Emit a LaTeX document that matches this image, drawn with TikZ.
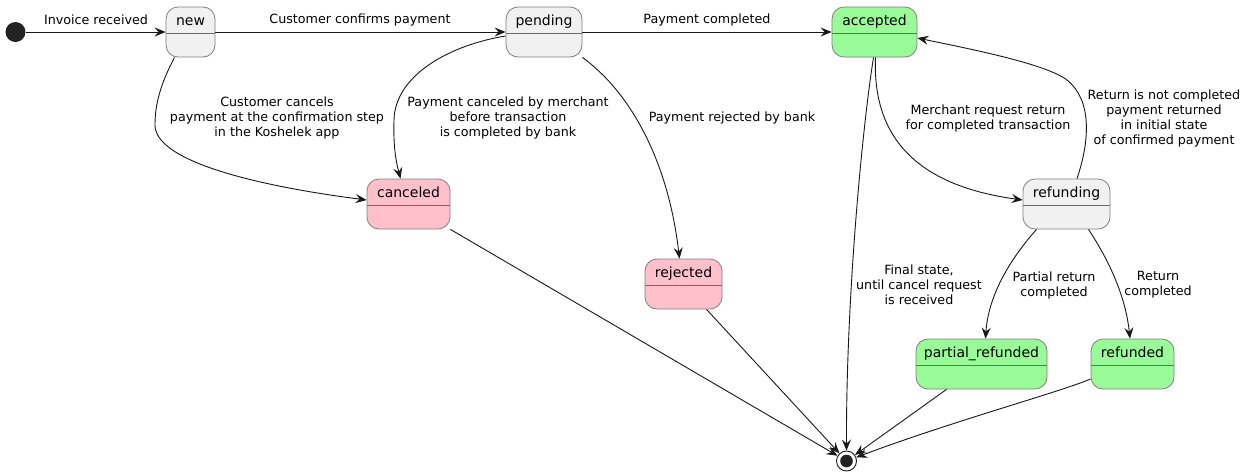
\documentclass[tikz,border=0pt]{standalone}
\usepackage{fontspec}
\setmainfont{DejaVu Sans}
\usetikzlibrary{arrows.meta,calc}
\definecolor{stgray}{HTML}{F1F1F1}
\definecolor{stgreen}{HTML}{98FB98}
\definecolor{stpink}{HTML}{FFC0CB}
\definecolor{stborder}{HTML}{808080}
\definecolor{stdivider}{HTML}{6A6A6A}
\definecolor{edgecol}{HTML}{181818}
\definecolor{dotcol}{HTML}{222222}
\tikzset{
  statebox/.style={draw=stborder, line width=0.8pt, rounded corners=12pt,
    minimum height=50pt, inner xsep=0pt, inner ysep=0pt,
    text height=18pt, text depth=32pt,
    font=\fontsize{14}{16}\selectfont,
    path picture={\draw[stdivider, line width=0.8pt]
      ([yshift=-26pt]path picture bounding box.north west) --
      ([yshift=-26pt]path picture bounding box.north east);}},
  grayst/.style={statebox, fill=stgray},
  greenst/.style={statebox, fill=stgreen},
  pinkst/.style={statebox, fill=stpink},
  lbl/.style={font=\fontsize{12.7}{15}\selectfont, align=center, inner sep=0pt, text=black},
  edge/.style={draw=edgecol, line width=0.9pt,
    -{Stealth[length=11pt, width=9pt, inset=4pt]}}
}
\begin{document}
\begin{tikzpicture}[x=1pt, y=-1pt]
\useasboundingbox (0,0) rectangle (1248,475);

% states
\node[circle, fill=dotcol, minimum size=20pt, inner sep=0pt] (init) at (15.5,32) {};
\node[grayst, minimum width=49pt] (new) at (190.5,32) {new};
\node[grayst, minimum width=76pt] (pending) at (544,32) {pending};
\node[greenst, minimum width=85pt] (accepted) at (874.5,32) {accepted};
\node[pinkst, minimum width=83pt] (canceled) at (408.5,204) {canceled};
\node[pinkst, minimum width=77pt] (rejected) at (683.5,284) {rejected};
\node[grayst, minimum width=87pt] (refunding) at (1066.5,204) {refunding};
\node[greenst, minimum width=131pt] (partial) at (981.5,364) {partial\_refunded};
\node[greenst, minimum width=83pt] (refunded) at (1132.5,364) {refunded};
\node[circle, draw=edgecol, fill=white, line width=0.9pt, minimum size=20pt, inner sep=0pt] (final) at (846.5,461) {};
\fill[dotcol] (final.center) circle (6.3pt);

% edges
\draw[edge] (init) -- (new);
\draw[edge] (new) -- (pending);
\draw[edge] (pending) -- (accepted);
\draw[edge] ($(new.south)+(-16,0)$) .. controls (160,85) and (155,105) .. (155,125)
   .. controls (155,160) and (250,185) .. ($(canceled.west)+(0,-4)$);
\draw[edge] ($(pending.west)+(0,4)$) .. controls (450,45) and (395,75) .. (394,120)
   .. controls (393,150) and (397,165) .. ($(canceled.north)+(-8,0)$);
\draw[edge] (pending.south east) .. controls (630,92) and (668,160) .. ($(rejected.north)+(-4,0)$);
\draw[edge] ($(accepted.south)+(-1,0)$) .. controls (862,130) and (846,300) .. (final.north);
\draw[edge] ($(accepted.south)+(1,0)$) .. controls (872,140) and (920,186) .. ($(refunding.west)+(0,-4)$);
\draw[edge] ($(refunding.north)+(10.5,0)$) .. controls (1090,140) and (1092,100) .. (1067,80)
   .. controls (1045,63) and (960,47) .. ($(accepted.east)+(0,6)$);
\draw[edge] ($(refunding.south)+(-30,0)$) .. controls (1005,265) and (988,300) .. ($(partial.north)+(4,0)$);
\draw[edge] ($(refunding.south)+(22,0)$) .. controls (1112,265) and (1126,300) .. ($(refunded.north)+(-2.5,0)$);
\draw[edge] (canceled.south east) -- (final);
\draw[edge] ($(rejected.south)+(23,0)$) -- (final);
\draw[edge] ($(partial.south)+(-35,0)$) -- (final);
\draw[edge] ($(refunded.west)+(0,15)$) .. controls (1060,392) and (950,422) .. (final);

% labels
\node[lbl] (l1) at (96,20) {Invoice received};
\node[lbl] (l2) at (360,20) {Customer confirms payment};
\node[lbl] (l3) at (707,20) {Payment completed};
\node[lbl] (l4) at (277,118) {Customer cancels\\payment at the confirmation step\\in the Koshelek app};
\node[lbl] (l5) at (508,118) {Payment canceled by merchant\\before transaction\\is completed by bank};
\node[lbl] (l6) at (732,118) {Payment rejected by bank};
\node[lbl] (l7) at (988,118) {Merchant request return\\for completed transaction};
\node[lbl] (l8) at (1164,118) {Return is not completed\\payment returned\\in initial state\\of confirmed payment};
\node[lbl] (l9) at (919,285) {Final state,\\until cancel request\\is received};
\node[lbl] (l10) at (1054,285) {Partial return\\completed};
\node[lbl] (l11) at (1158,285) {Return\\completed};
\end{tikzpicture}
\end{document}
